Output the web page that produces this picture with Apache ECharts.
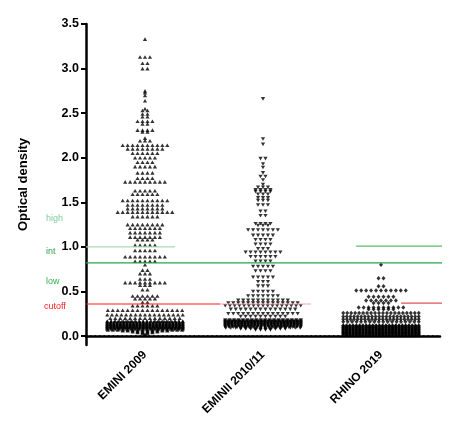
<!DOCTYPE html>
<html>
<head>
<meta charset="utf-8">
<script src="https://cdn.jsdelivr.net/npm/echarts@6/dist/echarts.min.js"></script>
<style>
  html, body { margin: 0; padding: 0; background: #fff; }
  #main { width: 452px; height: 440px; }
</style>
</head>
<body>
<div id="main"></div>
<script>
const categories = ['EMINI 2009', 'EMINII 2010/11', 'RHINO 2019']
const yTicks = [0, 0.5, 1, 1.5, 2, 2.5, 3, 3.5]

// swarm rows: [optical density, how many points sit in that row]
const emini2009 = [
  [3.33, 1], [3.13, 3], [3.06, 2], [3.00, 2],
  [2.75, 1], [2.73, 1], [2.70, 1], [2.64, 1],
  [2.55, 1], [2.53, 2], [2.49, 2], [2.46, 2], [2.41, 4], [2.38, 2], [2.31, 4], [2.29, 2], [2.22, 1], [2.19, 3],
  [2.14, 10], [2.10, 8], [2.05, 6], [2.00, 5], [1.95, 4], [1.90, 5], [1.83, 4], [1.77, 4], [1.73, 9],
  [1.63, 5], [1.59, 6], [1.52, 10], [1.47, 8], [1.43, 8], [1.39, 12], [1.34, 6],
  [1.25, 8], [1.21, 7], [1.16, 7], [1.11, 7], [1.08, 4], [1.02, 5], [0.96, 5], [0.89, 9], [0.84, 5], [0.80, 1],
  [0.74, 2], [0.70, 3], [0.64, 3], [0.60, 9], [0.57, 3], [0.52, 2], [0.45, 6], [0.42, 5], [0.38, 2], [0.34, 6],
  [0.29, 16], [0.24, 17], [0.20, 15],
  [0.17, 20], [0.16, 22], [0.15, 24], [0.14, 24], [0.13, 24], [0.12, 24], [0.11, 24], [0.10, 24],
  [0.09, 22], [0.08, 20], [0.07, 16], [0.06, 10], [0.05, 6], [0.04, 4], [0.03, 2], [0.02, 1], [0.01, 1]
]
const eminii2010 = [
  [2.66, 1], [2.21, 1], [2.15, 1], [1.99, 2], [1.93, 1], [1.89, 1], [1.83, 1], [1.79, 2], [1.75, 1], [1.70, 1],
  [1.67, 3], [1.64, 4], [1.62, 4], [1.59, 3], [1.55, 3], [1.52, 3], [1.47, 3], [1.40, 2], [1.35, 2],
  [1.26, 4], [1.24, 3], [1.19, 7], [1.13, 5], [1.08, 4], [1.03, 4], [0.98, 3], [0.94, 8], [0.89, 6], [0.84, 4],
  [0.78, 5], [0.73, 4], [0.66, 5], [0.61, 3], [0.56, 3], [0.50, 5], [0.45, 7], [0.40, 11], [0.37, 15], [0.34, 17],
  [0.30, 14], [0.25, 15], [0.22, 10],
  [0.18, 18], [0.17, 22], [0.16, 24], [0.15, 24], [0.14, 24], [0.13, 24], [0.12, 24],
  [0.11, 22], [0.10, 20], [0.09, 16], [0.08, 10], [0.07, 4]
]
const rhino2019 = [
  [0.80, 1], [0.65, 2], [0.56, 2], [0.51, 11], [0.44, 6], [0.40, 7], [0.37, 4], [0.32, 10], [0.30, 6],
  [0.26, 20], [0.22, 22], [0.19, 22], [0.16, 18],
  [0.12, 24], [0.11, 24], [0.10, 24], [0.09, 24], [0.08, 24], [0.07, 24], [0.06, 24],
  [0.05, 24], [0.04, 24], [0.03, 24], [0.02, 24], [0.01, 24]
]

// threshold levels
const highLevel = 1.0
const intLevel = 0.82
const cutoffLevel = 0.36
const rhinoHighLevel = 1.01
const rhinoCutoffLevel = 0.37

const SPACING = 0.042    // gap between neighbours in a row (x units, 1 = one category)
const HALF_WIDTH = 0.32  // rows wider than this get squeezed
function swarm(rows, centre) {
  const pts = []
  rows.forEach(([v, n]) => {
    const step = n > 1 ? Math.min(SPACING, 2 * HALF_WIDTH / (n - 1)) : 0
    for (let i = 0; i < n; i++) pts.push([centre + (i - (n - 1) / 2) * step, v])
  })
  return pts
}

function segment(y, x0, x1, color, type) {
  return {
    type: 'line', xAxisIndex: 1, silent: true, clip: false, z: 4,
    symbol: 'none', animation: false,
    data: [[x0, y], [x1, y]],
    lineStyle: { color: color, width: type ? 1.6 : 1.2, type: type || 'solid' }
  }
}

const dots = { type: 'scatter', xAxisIndex: 1, silent: true, animation: false, itemStyle: { color: '#000' }, z: 3 }
const font = 'Arial, "Liberation Sans", sans-serif'

const chart = echarts.init(document.getElementById('main'), null, { renderer: 'canvas' })
chart.setOption({
  backgroundColor: '#fff',
  textStyle: { fontFamily: font },
  grid: { left: 86, right: 12, top: 24, bottom: 95, containLabel: false },
  xAxis: [{
    type: 'category',
    data: categories,
    axisLine: { lineStyle: { color: '#000', width: 2.5 } },
    axisTick: { alignWithLabel: true, length: 5, lineStyle: { color: '#000', width: 1.5 } },
    axisLabel: { rotate: 45, color: '#000', fontWeight: 'bold', fontSize: 12, margin: 8, fontFamily: font },
    splitLine: { show: false }
  }, {
    type: 'value', min: 0.5, max: 3.5, show: false, splitLine: { show: false }
  }],
  yAxis: {
    type: 'value', min: -0.1, max: 3.5,
    name: 'Optical density', nameLocation: 'middle', nameGap: 56,
    nameTextStyle: { color: '#000', fontWeight: 'bold', fontSize: 13, fontFamily: font },
    axisLine: { show: true, lineStyle: { color: '#000', width: 2.5 } },
    axisTick: { show: true, length: 5, customValues: yTicks, lineStyle: { color: '#000', width: 2 } },
    axisLabel: { customValues: yTicks, formatter: v => v.toFixed(1), color: '#000', fontWeight: 'bold', fontSize: 12.5, margin: 7, fontFamily: font },
    splitLine: { show: false }
  },
  series: [
    Object.assign({ data: swarm(emini2009, 1), symbol: 'triangle', symbolSize: [4.2, 3.6] }, dots),
    Object.assign({ data: swarm(eminii2010, 2), symbol: 'triangle', symbolRotate: 180, symbolSize: [4.2, 3.6] }, dots),
    Object.assign({ data: swarm(rhino2019, 3), symbol: 'diamond', symbolSize: [4, 4.5] }, dots),
    segment(0, 0.534, 3.48, '#000', [1.5, 3]),
    segment(highLevel, 0.5, 1.254, '#a9dcaf'),
    segment(intLevel, 0.5, 3.585, '#2ca24a'),
    segment(cutoffLevel, 0.5, 1.636, '#ff1a1a'),
    segment(cutoffLevel, 1.636, 2.407, '#f5a9a9'),
    segment(rhinoHighLevel, 2.79, 3.585, '#55c06a'),
    segment(rhinoCutoffLevel, 3.17, 3.585, '#e05555')
  ],
  graphic: [
    { type: 'text', left: 46, top: 214, style: { text: 'high', fill: '#7fd0a0', font: '9px ' + font } },
    { type: 'text', left: 46, top: 247, style: { text: 'int', fill: '#2ca24a', font: '9px ' + font } },
    { type: 'text', left: 46, top: 277, style: { text: 'low', fill: '#35b050', font: '9px ' + font } },
    { type: 'text', left: 44, top: 302, style: { text: 'cutoff', fill: '#ff2020', font: '9px ' + font } }
  ]
})
</script>
</body>
</html>
